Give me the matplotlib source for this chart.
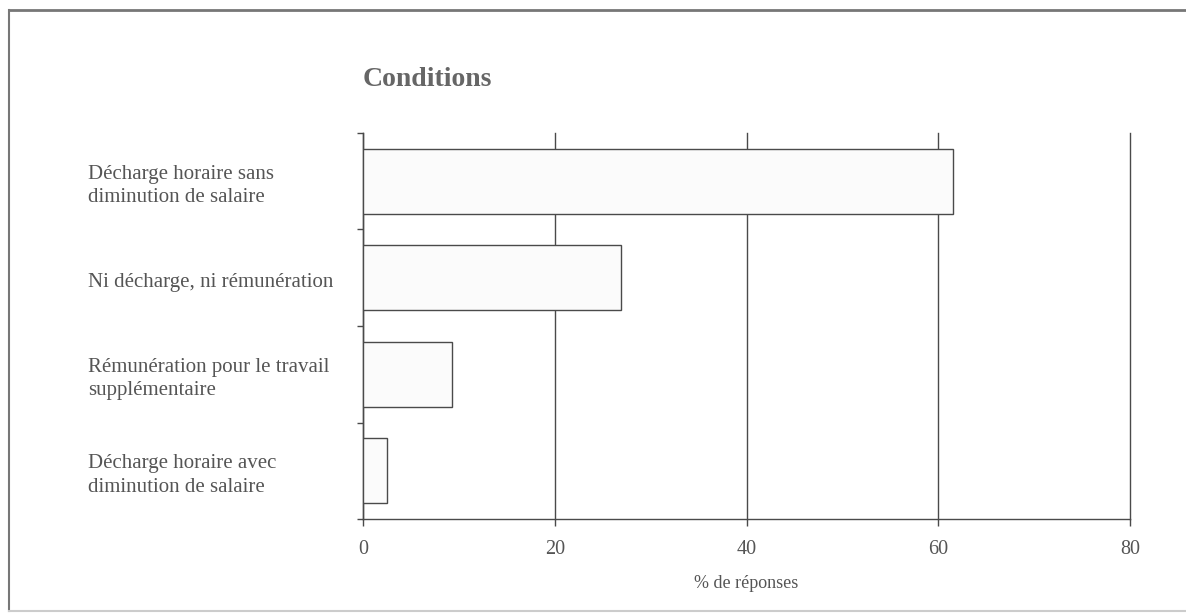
import matplotlib
matplotlib.use("Agg")
import matplotlib.pyplot as plt
from matplotlib.transforms import blended_transform_factory
from matplotlib.lines import Line2D

categories = ["Décharge horaire sans\ndiminution de salaire",
              "Ni décharge, ni rémunération",
              "Rémunération pour le travail\nsupplémentaire",
              "Décharge horaire avec\ndiminution de salaire"]
values = [61.5, 26.9, 9.3, 2.5]
xticks = [0, 20, 40, 60, 80]
title = "Conditions"
xlabel = "% de réponses"

plt.rcParams['font.family'] = ['Liberation Serif', 'DejaVu Serif']
txt = '#555555'
line = '#4a4a4a'

W, H = 1186, 616
fig = plt.figure(figsize=(W / 100, H / 100), dpi=100)
ax = fig.add_axes([363 / W, (H - 519) / H, (1130 - 363) / W, (519 - 133) / H])

ypos = list(range(len(categories)))
ax.barh(ypos, values, height=0.67, color='#fbfbfb', edgecolor=line,
        linewidth=1.0, zorder=3)

ax.set_xlim(0, 80)
ax.set_ylim(len(categories) - 0.5, -0.5)
ax.set_xticks(xticks)
ax.set_xticklabels([str(t) for t in xticks], fontsize=14.5, color=txt)
ax.tick_params(axis='x', direction='out', length=5, width=1, color=line, pad=10)
ax.xaxis.grid(True, color=line, linewidth=1.0, zorder=0)
ax.set_axisbelow(True)
for gl in ax.get_xgridlines():
    gl.set_clip_on(False)

ax.set_yticks([])
ax.set_yticks([i - 0.5 for i in range(len(categories) + 1)], minor=True)
ax.tick_params(axis='y', which='minor', direction='out', length=4.5, width=1, color=line)

for s in ['top', 'right']:
    ax.spines[s].set_visible(False)
for s in ['left', 'bottom']:
    ax.spines[s].set_color(line)
    ax.spines[s].set_linewidth(1.0)

ax.set_xlabel(xlabel, fontsize=13, color=txt, labelpad=12)

trans = blended_transform_factory(fig.transFigure, ax.transData)
for i, c in enumerate(categories):
    ax.text(88 / W, i + 0.05, c, transform=trans, ha='left', va='center',
            fontsize=15, color=txt, linespacing=1.3)

fig.text(363 / W, 1 - 80 / H, title, ha='left', va='center',
         fontsize=20, fontweight='bold', color='#666666')

# frame around figure
fig.add_artist(Line2D([9 / W, 1186 / W], [1 - 10 / H, 1 - 10 / H],
                      transform=fig.transFigure, color='#777777', linewidth=2))
fig.add_artist(Line2D([9 / W, 9 / W], [1 - 10 / H, 1 - 611 / H],
                      transform=fig.transFigure, color='#777777', linewidth=1.5))
fig.add_artist(Line2D([9 / W, 1186 / W], [1 - 611 / H, 1 - 611 / H],
                      transform=fig.transFigure, color='#cccccc', linewidth=1.5))

fig.savefig("out.png", dpi=100)
